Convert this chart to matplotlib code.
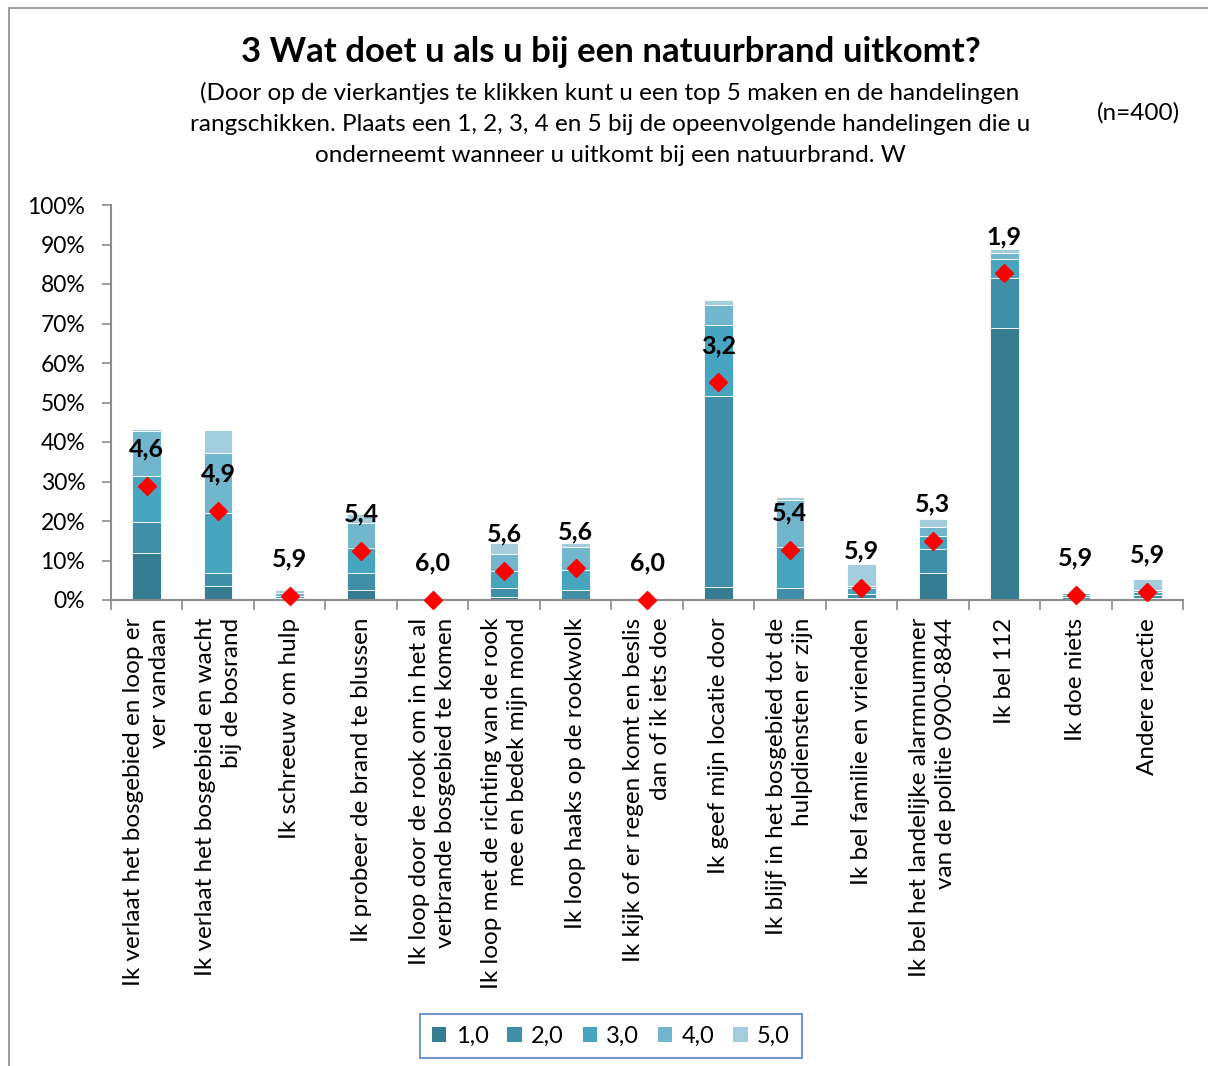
import matplotlib
matplotlib.use("Agg")
import matplotlib.pyplot as plt
from matplotlib.patches import Patch, Rectangle
import numpy as np

plt.rcParams['font.family'] = ['Lato', 'DejaVu Sans']

categories = [
    "Ik verlaat het bosgebied en loop er\nver vandaan",
    "Ik verlaat het bosgebied en wacht\nbij de bosrand",
    "Ik schreeuw om hulp",
    "Ik probeer de brand te blussen",
    "Ik loop door de rook om in het al\nverbrande bosgebied te komen",
    "Ik loop met de richting van de rook\nmee en bedek mijn mond",
    "Ik loop haaks op de rookwolk",
    "Ik kijk of er regen komt en beslis\ndan of ik iets doe",
    "Ik geef mijn locatie door",
    "Ik blijf in het bosgebied tot de\nhulpdiensten er zijn",
    "Ik bel familie en vrienden",
    "Ik bel het landelijke alarmnummer\nvan de politie 0900-8844",
    "Ik bel 112",
    "Ik doe niets",
    "Andere reactie",
]

series_names = ["1,0", "2,0", "3,0", "4,0", "5,0"]
rank1 = [11.8, 3.5, 0.3, 2.5, 0.2, 0.8, 0.2, 0.0, 3.4, 0.3, 0.5, 6.8, 68.8, 0.3, 0.5]
rank2 = [8.0, 3.3, 0.3, 4.3, 0.1, 2.2, 2.3, 0.0, 48.3, 2.7, 1.0, 6.0, 12.8, 0.5, 0.8]
rank3 = [11.7, 15.1, 0.5, 6.3, 0.1, 4.4, 5.1, 0.0, 17.9, 10.3, 1.6, 3.4, 4.7, 0.5, 0.8]
rank4 = [11.3, 15.4, 0.7, 6.5, 0.2, 4.2, 5.7, 0.0, 5.1, 12.0, 0.5, 2.4, 1.6, 0.4, 0.5]
rank5 = [0.5, 5.7, 0.7, 2.1, 0.2, 2.9, 1.2, 0.0, 1.2, 0.7, 5.4, 1.9, 1.0, 0.0, 2.7]
diamond = [28.9, 22.5, 1.0, 12.5, 0.0, 7.4, 8.0, 0.0, 55.1, 12.7, 3.0, 15.0, 82.7, 1.3, 2.1]
mean_rank = [4.6, 4.9, 5.9, 5.4, 6.0, 5.6, 5.6, 6.0, 3.2, 5.4, 5.9, 5.3, 1.9, 5.9, 5.9]

yticks = [0, 10, 20, 30, 40, 50, 60, 70, 80, 90, 100]

colors = ["#367d91", "#3f8fa9", "#47a5bf", "#72b6cd", "#a3cddc"]

W, H = 1208, 1066
fig = plt.figure(figsize=(W / 100, H / 100), dpi=100)

# outer chart border (top and left visible)
fig.add_artist(Rectangle((9 / W, -0.05), 1.2, 1 - 8 / H + 0.05, transform=fig.transFigure,
                         fill=False, edgecolor="#8c8c8c", linewidth=1.2))

left, right = 111 / W, 1183 / W
bottom, top = 1 - 600 / H, 1 - 205 / H
ax = fig.add_axes([left, bottom, right - left, top - bottom])

n = len(categories)
x = np.arange(n)
series = [rank1, rank2, rank3, rank4, rank5]
base = np.zeros(n)
for vals, c, name in zip(series, colors, series_names):
    v = np.array(vals)
    ax.bar(x, v, width=0.4, bottom=base, color=c, edgecolor="white", linewidth=0.6, label=name)
    base += v

ax.plot(x, diamond, linestyle="none", marker="D", markersize=9, color="#ff0000",
        markeredgecolor="#ff0000", zorder=5, clip_on=False)
for xi, d, m in zip(x, diamond, mean_rank):
    ax.annotate(f"{m:.1f}".replace(".", ","), (xi, d), xytext=(0, 26.5),
                textcoords="offset points", ha="center", va="center",
                fontsize=18, fontweight="bold", color="black", annotation_clip=False)

ax.set_xlim(-0.5, n - 0.5)
ax.set_ylim(0, 100)
ax.set_yticks(yticks)
ax.set_yticklabels([f"{t}%" for t in yticks], fontsize=16.5)
ax.set_xticks(np.arange(n + 1) - 0.5)
ax.set_xticklabels([])
ax.tick_params(axis="y", direction="out", length=6.5, width=1.2, color="#8c8c8c", pad=12)
ax.tick_params(axis="x", direction="out", length=7, width=1.2, color="#8c8c8c")
for s in ["top", "right"]:
    ax.spines[s].set_visible(False)
for s in ["left", "bottom"]:
    ax.spines[s].set_color("#8c8c8c")
    ax.spines[s].set_linewidth(1.5)

for xi, lab in zip(x, categories):
    ax.text(xi, -4.5, lab, rotation=90, ha="center", va="top", multialignment="right",
            fontsize=17.5, transform=ax.transData, clip_on=False, linespacing=1.3)

fig.text(611 / W, 1 - 52 / H, "3 Wat doet u als u bij een natuurbrand uitkomt?",
         ha="center", va="center", fontsize=25, fontweight="bold")
fig.text(610 / W, 1 - 124 / H,
         "(Door op de vierkantjes te klikken kunt u een top 5 maken en de handelingen\n"
         "rangschikken. Plaats een 1, 2, 3, 4 en 5 bij de opeenvolgende handelingen die u\n"
         "onderneemt wanneer u uitkomt bij een natuurbrand. W",
         ha="center", va="center", fontsize=17.5, linespacing=1.58)
fig.text(1138 / W, 1 - 113 / H, "(n=400)", ha="center", va="center", fontsize=17.5)

handles = [Patch(facecolor=c, edgecolor="none") for c in colors]
leg = fig.legend(handles, series_names, loc="center", bbox_to_anchor=(611 / W, 1 - 1036 / H),
                 ncol=5, fontsize=17, frameon=True, fancybox=False, handlelength=0.6,
                 handleheight=0.6, handletextpad=0.4, columnspacing=0.8, borderpad=0.5)
leg.get_frame().set_edgecolor("#4f7ec4")
leg.get_frame().set_linewidth(1.5)

fig.savefig("out.png", dpi=100)
